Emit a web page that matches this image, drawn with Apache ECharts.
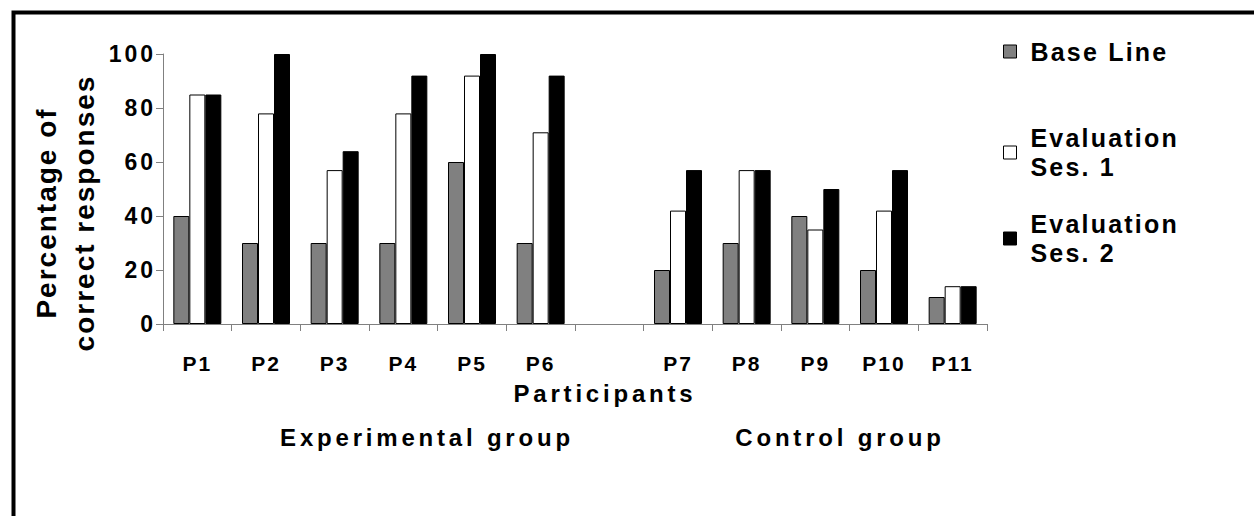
<!DOCTYPE html>
<html>
<head>
<meta charset="utf-8">
<script src="https://cdn.jsdelivr.net/npm/echarts@6/dist/echarts.min.js"></script>
<style>
  html, body { margin: 0; padding: 0; background: #fff; }
  #chart { width: 1254px; height: 516px; }
  /* spaced-out lettering, keyed on font size */
  #chart text[style*="28px"] { letter-spacing: 2px; }
  #chart text[style*="25px"] { letter-spacing: 2.2px; }
  #chart text[style*="24px"] { letter-spacing: 3.8px; }
  #chart text[style*="23px"] { letter-spacing: 3px; }
  #chart text[style*="21px"] { letter-spacing: 2px; }
</style>
</head>
<body>
<div id="chart"></div>
<script>
// Participants (blank slot separates the two groups)
const categories = ['P1', 'P2', 'P3', 'P4', 'P5', 'P6', '', 'P7', 'P8', 'P9', 'P10', 'P11'];
const baseLine  = [40, 30, 30, 30, 60, 30, null, 20, 30, 40, 20, 10];
const evalSes1  = [85, 78, 57, 78, 92, 71, null, 42, 57, 35, 42, 14];
const evalSes2  = [85, 100, 64, 92, 100, 92, null, 57, 57, 50, 57, 14];
const seriesNames = ['Base Line', 'Evaluation\nSes. 1', 'Evaluation\nSes. 2'];
const yMin = 0, yMax = 100, yStep = 20;

const FONT = "'Liberation Sans', Arial, sans-serif";
const chart = echarts.init(document.getElementById('chart'), null, { renderer: 'svg' });

const barStyle = (fill) => ({ color: fill, borderColor: '#000', borderWidth: 1 });
const legendText = (twoLines) => ({
  fontFamily: FONT, fontWeight: 'bold', fontSize: 25, color: '#000', lineHeight: 29,
  padding: twoLines ? [29, 0, 0, 9] : [0, 0, 0, 9]
});
const legendBase = {
  orient: 'vertical', left: 1003, padding: 0, itemWidth: 13, itemHeight: 13,
  selectedMode: false, icon: 'rect',
  itemStyle: { borderColor: '#000', borderWidth: 1 }
};
const caption = (text, x, y) => ({
  type: 'text', x: x, y: y,
  style: { text: text, fontFamily: FONT, fontWeight: 'bold', fontSize: 24,
           fill: '#000', align: 'center', verticalAlign: 'middle' }
});

chart.setOption({
  animation: false,
  backgroundColor: '#fff',
  grid: { left: 163, right: 267, top: 54, bottom: 192 },
  xAxis: {
    type: 'category',
    data: categories,
    axisLine: { lineStyle: { color: '#808080', width: 1 } },
    axisTick: { show: true, length: 7, lineStyle: { color: '#808080' } },
    axisLabel: { fontFamily: FONT, fontWeight: 'bold', fontSize: 21, color: '#000', margin: 29 }
  },
  yAxis: {
    type: 'value',
    min: yMin, max: yMax, interval: yStep,
    splitLine: { show: false },
    axisLine: { show: true, lineStyle: { color: '#808080', width: 1 } },
    axisTick: { show: true, length: 7, lineStyle: { color: '#808080' } },
    axisLabel: { fontFamily: FONT, fontWeight: 'bold', fontSize: 23, color: '#000', margin: 7 }
  },
  legend: [
    Object.assign({}, legendBase, { top: 37, data: [{ name: seriesNames[0], textStyle: legendText(false) }] }),
    Object.assign({}, legendBase, { top: 109, data: [{ name: seriesNames[1], textStyle: legendText(true) }] }),
    Object.assign({}, legendBase, { top: 195, data: [{ name: seriesNames[2], textStyle: legendText(true) }] })
  ],
  series: [
    { name: seriesNames[0], type: 'bar', data: baseLine, barWidth: 16, barGap: '0%', itemStyle: barStyle('#808080') },
    { name: seriesNames[1], type: 'bar', data: evalSes1, barWidth: 16, barGap: '0%', itemStyle: barStyle('#ffffff') },
    { name: seriesNames[2], type: 'bar', data: evalSes2, barWidth: 16, barGap: '0%', itemStyle: barStyle('#000000') }
  ],
  graphic: [
    // outer frame
    { type: 'rect', left: 11, top: 10, z: 100, silent: true,
      shape: { x: 0, y: 0, width: 1300, height: 600 },
      style: { fill: 'none', stroke: '#000', lineWidth: 4 } },
    // y axis title
    { type: 'text', x: 65, y: 213, rotation: Math.PI / 2,
      style: { text: 'Percentage of\ncorrect responses', fontFamily: FONT, fontWeight: 'bold',
               fontSize: 28, lineHeight: 38, fill: '#000', align: 'center', verticalAlign: 'middle' } },
    // x axis title and group captions
    caption('Participants', 605, 393),
    caption('Experimental group', 427, 437),
    caption('Control group', 840, 437)
  ]
});
</script>
</body>
</html>
